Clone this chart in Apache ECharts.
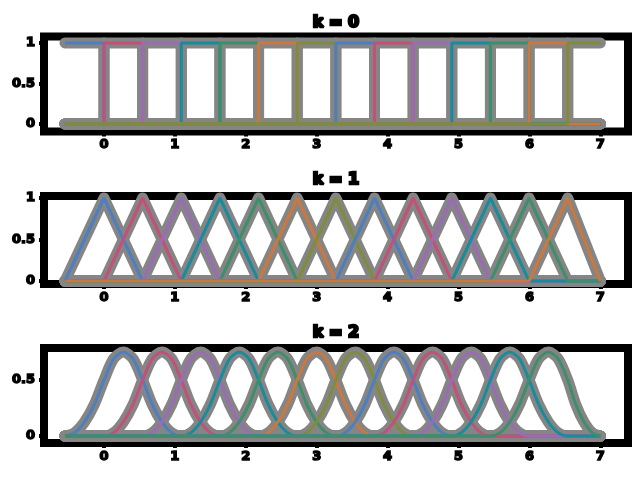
<!DOCTYPE html>
<html>
<head>
<meta charset="utf-8">
<script src="https://cdn.jsdelivr.net/npm/echarts@6/dist/echarts.min.js"></script>
<style>html,body{margin:0;padding:0;background:#fff}#c{width:640px;height:480px}</style>
</head>
<body>
<div id="c"></div>
<script>
// ---- data ----
const knots = [-0.55, 0, 0.545, 1.09, 1.635, 2.18, 2.725, 3.27, 3.815, 4.36, 4.905, 5.45, 5.995, 6.54, 7.0];
const titles = ['k = 0', 'k = 1', 'k = 2'];
const xTicks = [0, 1, 2, 3, 4, 5, 6, 7];
const yTicks1 = [0, 0.5, 1];
const yTicks2 = [0, 0.5, 1];
const yTicks3 = [0, 0.5];
// shape of one basis function, sampled at quarter-knot steps across its support
const hatProfile = [0, 0.25, 0.5, 0.75, 1, 0.75, 0.5, 0.25, 0];   // degree 1
const bumpProfile = [0, 0.03, 0.125, 0.28, 0.5, 0.69, 0.75, 0.69, 0.5, 0.28, 0.125, 0.03, 0]; // degree 2
const palette = ['#4c7fc0', '#c2507a', '#9b6bb5', '#168c9c', '#3d8f6a', '#c97840', '#7f8c3c'];

const xStart = knots[0], xEnd = knots[knots.length - 1];

function knotPos(i, frac) {
  const a = knots[i], b = knots[Math.min(i + 1, knots.length - 1)];
  return a + (b - a) * frac;
}

function basis(deg, i) {
  const pts = [];
  if (deg === 0) {
    const a = knots[i], b = knots[i + 1];
    if (a > xStart) { pts.push([xStart, 0]); pts.push([a, 0]); }
    pts.push([a, 1]); pts.push([b, 1]);
    if (b < xEnd) { pts.push([b, 0]); pts.push([xEnd, 0]); }
    return pts;
  }
  const prof = deg === 1 ? hatProfile : bumpProfile;
  if (knots[i] > xStart) pts.push([xStart, 0]);
  for (let k = 0; k < prof.length; k++) {
    const seg = i + Math.floor(k / 4);
    const x = knotPos(seg, (k % 4) / 4);
    pts.push([x, prof[k]]);
  }
  if (pts[pts.length - 1][0] < xEnd) pts.push([xEnd, 0]);
  return pts;
}

const grids = [
  { left: 44, right: 12, top: 36.5, height: 95 },
  { left: 44, right: 12, top: 196, height: 88 },
  { left: 44, right: 12, top: 348, height: 95 }
];
const yRanges = [[-0.093, 1.08], [-0.036, 1.024], [-0.0625, 0.786]];
const yTickSets = [yTicks1, yTicks2, yTicks3];
const titleTops = [15, 172, 325];

const labelStyle = { color: '#000', fontWeight: 'bold', fontSize: 13, fontFamily: 'DejaVu Sans', textBorderColor: '#000', textBorderWidth: 1.5 };

const option = {
  animation: false,
  backgroundColor: '#fff',
  title: titles.map((t, g) => ({
    text: t, left: 336, top: titleTops[g], textAlign: 'center', padding: 0,
    textStyle: { color: '#000', fontWeight: 'bold', fontSize: 16, fontFamily: 'DejaVu Sans', textBorderColor: '#000', textBorderWidth: 2.5 }
  })),
  grid: grids.map(g => Object.assign({ show: true, borderColor: '#000', borderWidth: 8, backgroundColor: 'transparent' }, g)),
  xAxis: grids.map((g, gi) => ({
    type: 'value', gridIndex: gi, min: -0.846, max: 7.39, position: 'bottom',
    axisLine: { show: false, onZero: false }, splitLine: { show: false },
    axisTick: { show: true, length: 5, lineStyle: { color: '#000', width: 4 }, customValues: xTicks },
    axisLabel: Object.assign({ margin: 7, customValues: xTicks }, labelStyle)
  })),
  yAxis: grids.map((g, gi) => ({
    type: 'value', gridIndex: gi, min: yRanges[gi][0], max: yRanges[gi][1], position: 'left',
    axisLine: { show: false, onZero: false }, splitLine: { show: false },
    axisTick: { show: true, length: 5, lineStyle: { color: '#000', width: 4 }, customValues: yTickSets[gi] },
    axisLabel: Object.assign({ margin: 9, customValues: yTickSets[gi] }, labelStyle)
  })),
  series: []
};

const counts = [14, 13, 12];
for (let g = 0; g < 3; g++) {
  const lines = [];
  for (let i = 0; i < counts[g]; i++) lines.push(basis(g, i));
  // grey halo underneath
  lines.forEach(d => option.series.push({
    type: 'line', xAxisIndex: g, yAxisIndex: g, data: d, showSymbol: false, silent: true,
    z: 1, smooth: g === 2 ? 0.3 : false,
    lineStyle: { color: '#858585', width: 11, cap: 'round', join: 'round' }
  }));
  lines.forEach((d, i) => option.series.push({
    type: 'line', xAxisIndex: g, yAxisIndex: g, data: d, showSymbol: false, silent: true,
    z: 2, smooth: g === 2 ? 0.3 : false,
    lineStyle: { color: palette[i % palette.length], width: 3 }
  }));
}

const chart = echarts.init(document.getElementById('c'), null, { renderer: 'canvas' });
chart.setOption(option);
</script>
</body>
</html>
